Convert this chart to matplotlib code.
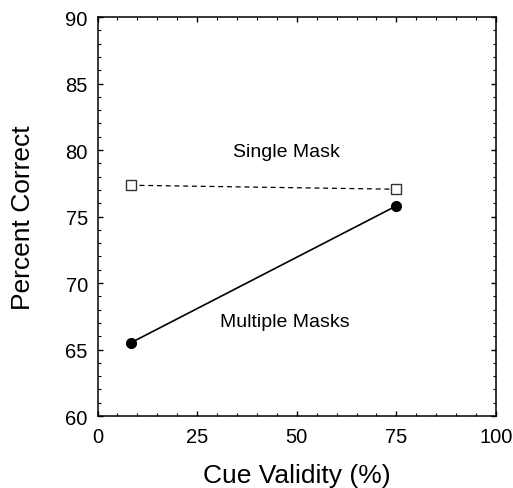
import matplotlib
matplotlib.use('Agg')
import matplotlib.pyplot as plt
from matplotlib.ticker import MultipleLocator

plt.rcParams['font.family'] = ['Liberation Sans', 'DejaVu Sans']

# Data
cue_validity = [8.33, 75]
single_mask = [77.35, 77.05]
multiple_masks = [65.5, 75.8]

fig = plt.figure(figsize=(5.13, 4.89), dpi=100)
ax = fig.add_axes([97.5 / 513, 1 - 417 / 489, 398.5 / 513, 399 / 489])

ax.plot(cue_validity, single_mask, linestyle=(0, (4, 3)), color='black', lw=0.9,
        marker='s', markersize=6.5, markerfacecolor='white', markeredgecolor='#333333',
        markeredgewidth=1.0)
ax.plot(cue_validity, multiple_masks, linestyle='-', color='black', lw=1.2,
        marker='o', markersize=7, markerfacecolor='black', markeredgecolor='black')

ax.text(47.3, 79.9, 'Single Mask', ha='center', va='center', fontsize=14)
ax.text(47.0, 67.1, 'Multiple Masks', ha='center', va='center', fontsize=14)

ax.set_xlim(0, 100)
ax.set_ylim(60, 90)
ax.xaxis.set_major_locator(MultipleLocator(25))
ax.xaxis.set_minor_locator(MultipleLocator(5))
ax.yaxis.set_major_locator(MultipleLocator(5))
ax.yaxis.set_minor_locator(MultipleLocator(1))
ax.tick_params(which='both', direction='in', top=True, right=True, labelsize=14.5)
ax.tick_params(which='major', length=3.5, width=1)
ax.tick_params(which='minor', length=2, width=0.8)
ax.tick_params(axis='x', pad=8)
ax.tick_params(axis='y', pad=7)
for s in ax.spines.values():
    s.set_linewidth(1.1)

ax.set_xlabel('Cue Validity (%)', fontsize=19)
ax.set_ylabel('Percent Correct', fontsize=19)
ax.xaxis.set_label_coords(0.5, -0.117)
ax.yaxis.set_label_coords(-0.156, 0.5)

fig.savefig('out.png', dpi=100)
